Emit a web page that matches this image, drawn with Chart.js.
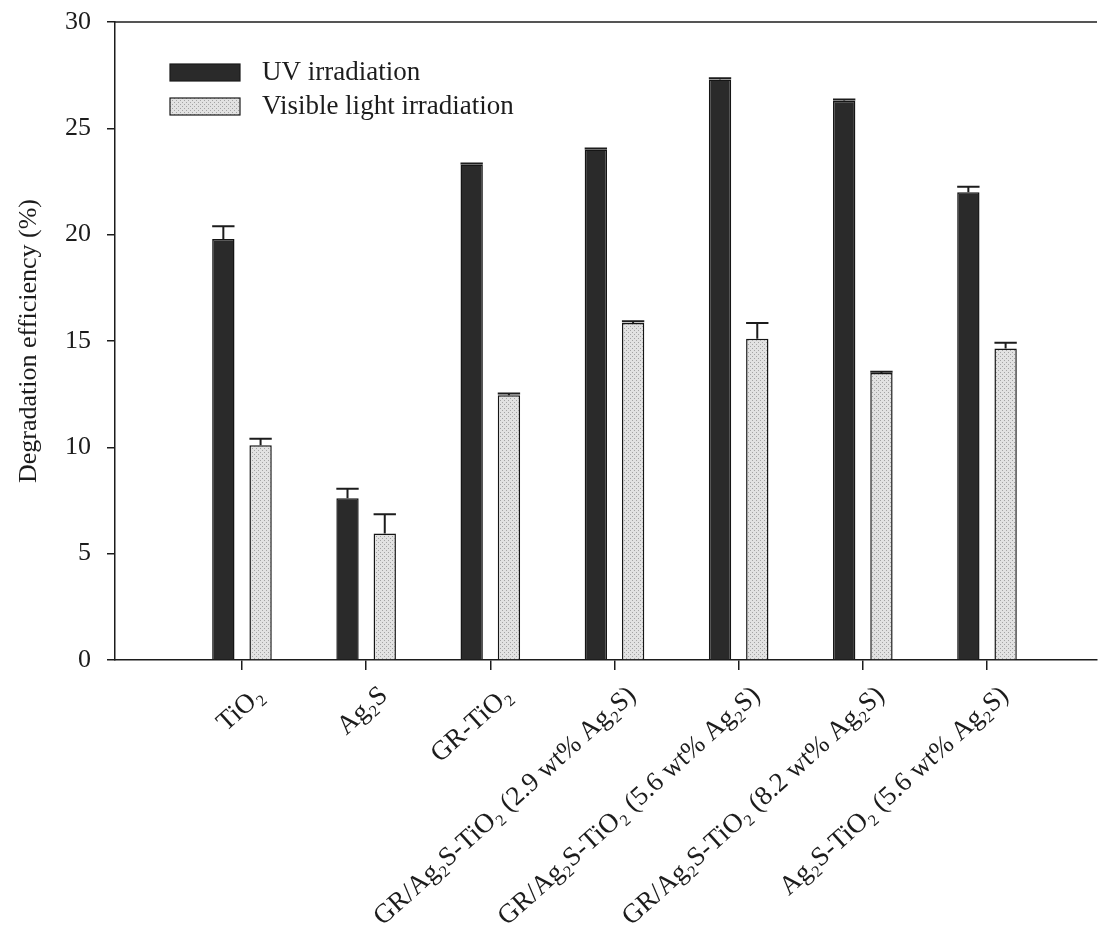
<!DOCTYPE html>
<html>
<head>
<meta charset="utf-8">
<script src="https://cdn.jsdelivr.net/npm/chart.js@4.4.0/dist/chart.umd.min.js"></script>
<style>
  body { margin: 0; background: #fff; }
  #wrap { width: 1100px; height: 935px; }
</style>
</head>
<body>
<div id="wrap"><canvas id="myChart" width="1100" height="935"></canvas></div>
<script>
const categories = [
    'TiO₂',
    'Ag₂S',
    'GR-TiO₂',
    'GR/Ag₂S-TiO₂ (2.9 wt% Ag₂S)',
    'GR/Ag₂S-TiO₂ (5.6 wt% Ag₂S)',
    'GR/Ag₂S-TiO₂ (8.2 wt% Ag₂S)',
    'Ag₂S-TiO₂ (5.6 wt% Ag₂S)',
];
const uvValues = [19.8, 7.6, 23.3, 24.0, 27.3, 26.3, 22.0];
const uvErrors = [0.6, 0.45, 0.05, 0.05, 0.05, 0.05, 0.25];
const visValues = [10.1, 5.95, 12.45, 15.85, 15.1, 13.5, 14.65];
const visErrors = [0.3, 0.9, 0.08, 0.08, 0.75, 0.05, 0.27];
const yTicks = [0, 5, 10, 15, 20, 25, 30];

const serif = '"Liberation Serif", "DejaVu Serif", serif';
const ink = '#1c1c1c';

// stippled grey fill like the scanned figure
const makeDots = () => {
    const c = document.createElement('canvas');
    c.width = 4;
    c.height = 4;
    const g = c.getContext('2d');
    g.fillStyle = '#e2e2e2';
    g.fillRect(0, 0, 4, 4);
    g.fillStyle = '#a4a4a4';
    g.fillRect(0, 0, 1, 1);
    g.fillRect(2, 2, 1, 1);
    return g.createPattern(c, 'repeat');
};
const dots = makeDots();

const errorBars = {
    id: 'errorBars',
    afterDatasetsDraw(chart) {
        const ctx = chart.ctx;
        const y = chart.scales.y;
        chart.data.datasets.forEach((ds, i) => {
            const meta = chart.getDatasetMeta(i);
            meta.data.forEach((bar, j) => {
                const top = y.getPixelForValue(ds.data[j].y + ds.errors[j]);
                const half = bar.width / 2;
                ctx.save();
                ctx.strokeStyle = ink;
                ctx.lineWidth = 2;
                ctx.beginPath();
                ctx.moveTo(bar.x, bar.y);
                ctx.lineTo(bar.x, top);
                ctx.moveTo(bar.x - half, top);
                ctx.lineTo(bar.x + half, top);
                ctx.stroke();
                ctx.restore();
            });
        });
    },
};

const frameAndLegend = {
    id: 'frameAndLegend',
    afterDraw(chart) {
        const ctx = chart.ctx;
        const area = chart.chartArea;
        ctx.save();
        // top border of the frame
        ctx.strokeStyle = ink;
        ctx.lineWidth = 1.5;
        ctx.beginPath();
        ctx.moveTo(area.left, area.top);
        ctx.lineTo(area.right, area.top);
        ctx.stroke();

        // legend inside the plot
        chart.data.datasets.forEach((ds, i) => {
            const bx = area.left + 55;
            const cy = area.top + 50 + i * 34;
            ctx.fillStyle = ds.backgroundColor;
            ctx.fillRect(bx, cy - 8, 70, 17);
            ctx.strokeStyle = ink;
            ctx.lineWidth = 1.2;
            ctx.strokeRect(bx, cy - 8, 70, 17);
            ctx.fillStyle = ink;
            ctx.font = '27px ' + serif;
            ctx.textBaseline = 'middle';
            ctx.fillText(ds.label, bx + 92, cy + 1);
        });
        ctx.restore();
    },
};

const ctx = document.getElementById('myChart').getContext('2d');
new Chart(ctx, {
    type: 'bar',
    data: {
        datasets: [
            {
                label: 'UV irradiation',
                data: uvValues.map((v, i) => ({ x: i, y: v })),
                errors: uvErrors,
                backgroundColor: '#2a2a2a',
                borderColor: '#151515',
                borderWidth: 1.5,
            },
            {
                label: 'Visible light irradiation',
                data: visValues.map((v, i) => ({ x: i, y: v })),
                errors: visErrors,
                backgroundColor: dots,
                borderColor: '#151515',
                borderWidth: 1.5,
            },
        ],
    },
    options: {
        responsive: false,
        animation: false,
        categoryPercentage: 0.6,
        barPercentage: 0.6,
        layout: {
            padding: { top: 22, right: 3, bottom: 0, left: 8 },
        },
        plugins: {
            legend: { display: false },
            tooltip: { enabled: false },
        },
        scales: {
            x: {
                type: 'linear',
                min: -1.0225,
                max: 6.886,
                offset: false,
                border: { color: ink, width: 1.5 },
                grid: {
                    offset: false,
                    drawOnChartArea: false,
                    drawTicks: true,
                    tickLength: 10,
                    color: ink,
                    lineWidth: 1.5,
                },
                afterBuildTicks: (scale) => {
                    scale.ticks = categories.map((c, i) => ({ value: i }));
                },
                afterFit: (scale) => {
                    scale.height = 275;
                },
                ticks: {
                    autoSkip: false,
                    minRotation: 42,
                    maxRotation: 42,
                    padding: 10,
                    labelOffset: 18,
                    color: ink,
                    font: { family: serif, size: 27 },
                    callback: (value) => categories[value] ?? '',
                },
            },
            y: {
                min: 0,
                max: 30,
                border: { color: ink, width: 1.5 },
                grid: {
                    drawOnChartArea: false,
                    drawTicks: true,
                    tickLength: 8,
                    color: ink,
                    lineWidth: 1.5,
                },
                afterBuildTicks: (scale) => {
                    scale.ticks = yTicks.map((v) => ({ value: v }));
                },
                afterFit: (scale) => {
                    scale.width = 107;
                    scale.paddingTop = 0;
                    scale.paddingBottom = 0;
                },
                ticks: {
                    padding: 16,
                    color: ink,
                    font: { family: serif, size: 26 },
                },
                title: {
                    display: true,
                    text: 'Degradation efficiency (%)',
                    color: ink,
                    font: { family: serif, size: 26 },
                    padding: { top: 6, bottom: 0 },
                },
            },
        },
    },
    plugins: [errorBars, frameAndLegend],
});
</script>
</body>
</html>
